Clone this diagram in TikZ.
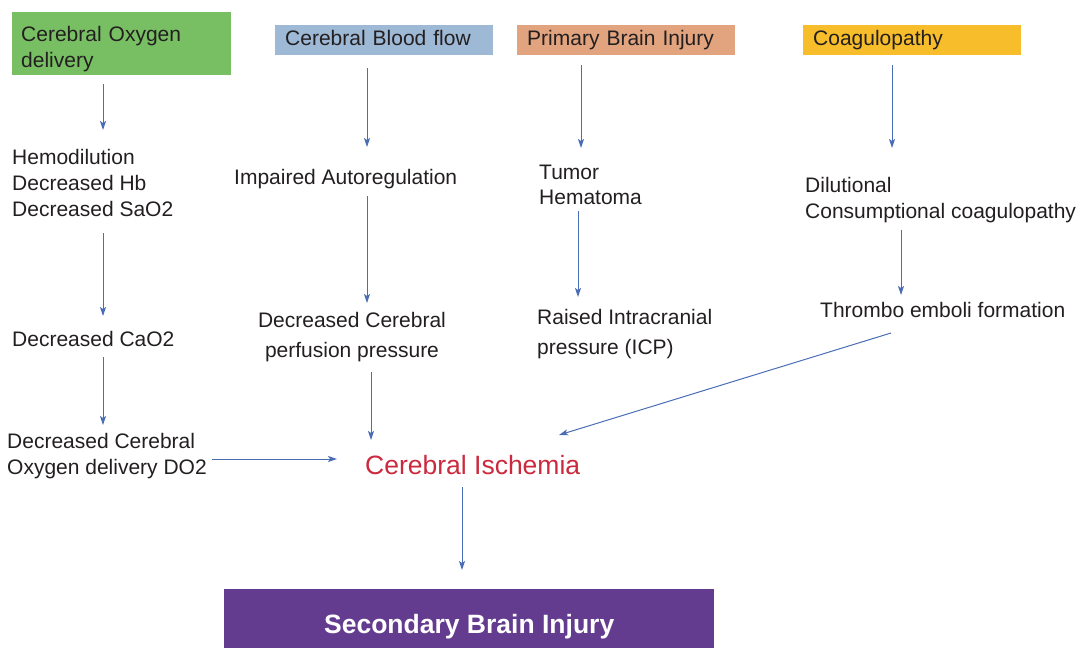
\documentclass[tikz,border=0pt]{standalone}
\usepackage{fontspec}
\setmainfont{Liberation Sans}
\usepackage{tikz}
\usetikzlibrary{arrows.meta}

\definecolor{oxygreen}{HTML}{78BF64}
\definecolor{flowblue}{HTML}{9DB9D5}
\definecolor{injorange}{HTML}{E2A47F}
\definecolor{coagyellow}{HTML}{F7BD2A}
\definecolor{sbipurple}{HTML}{643C8F}
\definecolor{ischred}{HTML}{CB2A3E}
\definecolor{arrblue}{HTML}{4A6DB5}
\definecolor{txtgray}{HTML}{231F20}

\begin{document}
\begin{tikzpicture}[x=1pt, y=-1pt,
			      every node/.style={inner sep=0pt, text=txtgray, font=\fontsize{21}{26}\selectfont},
			      box/.style={anchor=north west, minimum width=218pt, minimum height=30pt,
				      text width=198pt, inner xsep=10pt, align=left, text height=15pt, text depth=4pt},
			      txt/.style={anchor=north west, align=left},
			      arr/.style={draw=arrblue, line width=1pt, -{Stealth[length=9pt, width=6pt, inset=2pt]}}]
		      \useasboundingbox (0,0) rectangle (1089,648);

		      % top row
		      \node[box, fill=oxygreen, minimum width=219pt, minimum height=63pt, text width=201pt,
			      inner xsep=9pt, text height=15pt, text depth=19pt] (oxy) at (12,12) {Cerebral Oxygen\\delivery};
		      \node[box, fill=flowblue] (blood) at (275,25) {Cerebral Blood flow};
		      \node[box, fill=injorange] (pbi) at (517,25) {Primary Brain Injury};
		      \node[box, fill=coagyellow] (coag) at (803,25) {Coagulopathy};

		      % causes
		      \node[txt] (hemo) at (12,149) {Hemodilution\\Decreased Hb\\Decreased SaO2};
		      \node[txt] (cao2) at (12,331) {Decreased CaO2};
		      \node[txt] (do2) at (7,433) {Decreased Cerebral\\Oxygen delivery DO2};
		      \node[txt] (auto) at (234,169) {Impaired Autoregulation};
		      \node[anchor=north, align=center, font=\fontsize{21}{30}\selectfont] (cpp) at (352,312)
			      {Decreased Cerebral\\perfusion pressure};
		      \node[txt, font=\fontsize{21}{25}\selectfont] (tumor) at (539,165) {Tumor\\Hematoma};
		      \node[txt, font=\fontsize{21}{30}\selectfont] (icp) at (537,309) {Raised Intracranial\\pressure (ICP)};
		      \node[txt] (dilut) at (805,177) {Dilutional\\Consumptional coagulopathy};
		      \node[txt] (thrombo) at (820,302) {Thrombo emboli formation};

		      % outcome
		      \node[txt, text=ischred, font=\fontsize{26.5}{30}\selectfont] (isch) at (365,455) {Cerebral Ischemia};
		      \node[anchor=north west, fill=sbipurple, minimum width=490pt, minimum height=59pt,
			      text=white, font=\fontsize{26.5}{30}\selectfont\bfseries, text height=30pt, text depth=0pt]
			      (sbi) at (224,589) {Secondary Brain Injury};

		      % arrows
		      \draw[arr] ([shift={(91,9)}]oxy.south west) -- ([shift={(91,-19)}]hemo.north west);
		      \draw[arr] ([shift={(91,84)}]hemo.north west) -- ([shift={(91,-15)}]cao2.north west);
		      \draw[arr] ([shift={(91,26)}]cao2.north west) -- ([shift={(96,-8)}]do2.north west);
		      \draw[arr] ([shift={(205,26)}]do2.north west) -- ([shift={(-28,4)}]isch.north west);
		      \draw[arr] ([shift={(92,13)}]blood.south west) -- ([shift={(133,-22)}]auto.north west);
		      \draw[arr] ([shift={(133,27)}]auto.north west) -- ([shift={(15,-9)}]cpp.north);
		      \draw[arr] ([shift={(19,60)}]cpp.north) -- ([shift={(6,-15)}]isch.north west);
		      \draw[arr] ([shift={(97,32)}]isch.north west) -- ([shift={(238,-19)}]sbi.north west);
		      \draw[arr] ([shift={(64,10)}]pbi.south west) -- ([shift={(42,-17)}]tumor.north west);
		      \draw[arr] ([shift={(39,46)}]tumor.north west) -- ([shift={(41,-12)}]icp.north west);
		      \draw[arr] ([shift={(89,10)}]coag.south west) -- ([shift={(87,-29)}]dilut.north west);
		      \draw[arr] ([shift={(96,53)}]dilut.north west) -- ([shift={(81,-7)}]thrombo.north west);
		      \draw[arr] ([shift={(71,31)}]thrombo.north west) -- ([shift={(194,-20)}]isch.north west);
	      \end{tikzpicture}
\end{document}
